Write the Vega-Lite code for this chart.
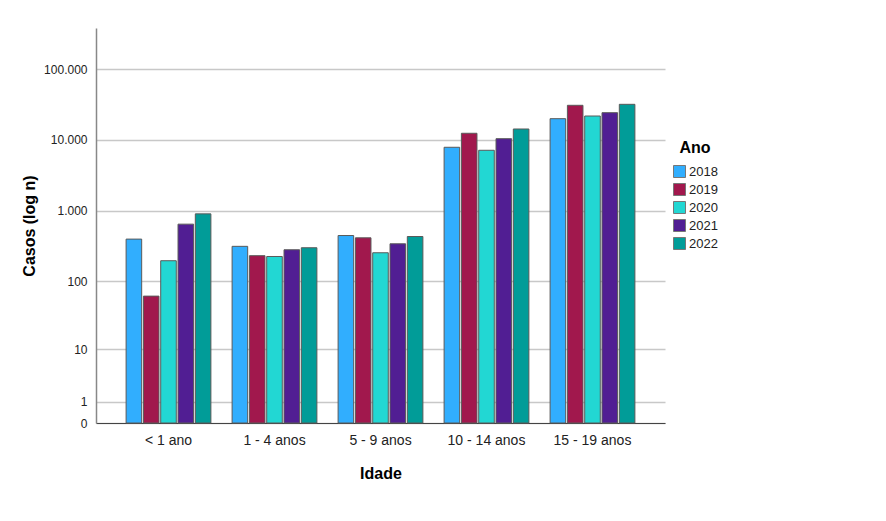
{
  "$schema": "https://vega.github.io/schema/vega-lite/v6.json",
  "width": 569,
  "height": 395,
  "autosize": {"type": "none"},
  "padding": {"left": 96, "top": 28, "right": 221, "bottom": 98},
  "background": "white",
  "config": {
    "locale": {"number": {"decimal": ",", "thousands": ".", "grouping": [3], "currency": ["", ""]}},
    "font": "Liberation Sans",
    "view": {"stroke": null}
  },
  "data": {
    "values": [
      {"Idade": "< 1 ano", "Ano": "2018", "Casos": 395},
      {"Idade": "< 1 ano", "Ano": "2019", "Casos": 61},
      {"Idade": "< 1 ano", "Ano": "2020", "Casos": 195},
      {"Idade": "< 1 ano", "Ano": "2021", "Casos": 643},
      {"Idade": "< 1 ano", "Ano": "2022", "Casos": 899},
      {"Idade": "1 - 4 anos", "Ano": "2018", "Casos": 312},
      {"Idade": "1 - 4 anos", "Ano": "2019", "Casos": 230},
      {"Idade": "1 - 4 anos", "Ano": "2020", "Casos": 224},
      {"Idade": "1 - 4 anos", "Ano": "2021", "Casos": 279},
      {"Idade": "1 - 4 anos", "Ano": "2022", "Casos": 298},
      {"Idade": "5 - 9 anos", "Ano": "2018", "Casos": 444},
      {"Idade": "5 - 9 anos", "Ano": "2019", "Casos": 412},
      {"Idade": "5 - 9 anos", "Ano": "2020", "Casos": 253},
      {"Idade": "5 - 9 anos", "Ano": "2021", "Casos": 339},
      {"Idade": "5 - 9 anos", "Ano": "2022", "Casos": 430},
      {"Idade": "10 - 14 anos", "Ano": "2018", "Casos": 7850},
      {"Idade": "10 - 14 anos", "Ano": "2019", "Casos": 12380},
      {"Idade": "10 - 14 anos", "Ano": "2020", "Casos": 7120},
      {"Idade": "10 - 14 anos", "Ano": "2021", "Casos": 10380},
      {"Idade": "10 - 14 anos", "Ano": "2022", "Casos": 14230},
      {"Idade": "15 - 19 anos", "Ano": "2018", "Casos": 19900},
      {"Idade": "15 - 19 anos", "Ano": "2019", "Casos": 30740},
      {"Idade": "15 - 19 anos", "Ano": "2020", "Casos": 21710},
      {"Idade": "15 - 19 anos", "Ano": "2021", "Casos": 24190},
      {"Idade": "15 - 19 anos", "Ano": "2022", "Casos": 31750}
    ]
  },
  "mark": {"type": "bar", "stroke": "#5a5a5a", "strokeWidth": 1},
  "encoding": {
    "x": {
      "field": "Idade",
      "type": "nominal",
      "sort": ["< 1 ano", "1 - 4 anos", "5 - 9 anos", "10 - 14 anos", "15 - 19 anos"],
      "scale": {"paddingInner": 0.2, "paddingOuter": 0.284},
      "axis": {
        "title": "Idade",
        "titleFontSize": 16,
        "titleFontWeight": "bold",
        "titleColor": "#000",
        "titlePadding": 18,
        "labelAngle": 0,
        "labelFontSize": 14,
        "labelColor": "#222",
        "labelPadding": 10,
        "ticks": false,
        "domainColor": "#444",
        "domainWidth": 1
      }
    },
    "xOffset": {
      "field": "Ano",
      "type": "nominal",
      "scale": {"paddingInner": 0.1, "paddingOuter": 0}
    },
    "y": {
      "field": "Casos",
      "type": "quantitative",
      "scale": {"type": "symlog", "constant": 1, "domain": [0, 380000], "nice": false, "zero": true},
      "axis": {
        "title": "Casos (log n)",
        "titleFontSize": 16,
        "titleFontWeight": "bold",
        "titleColor": "#000",
        "titlePadding": 6,
        "values": [0, 1, 10, 100, 1000, 10000, 100000],
        "format": ",d",
        "labelFontSize": 12,
        "labelColor": "#222",
        "labelPadding": 9,
        "ticks": false,
        "grid": true,
        "gridColor": "#c8c8c8",
        "gridWidth": 1.5,
        "domainColor": "#888",
        "domainWidth": 1.5
      }
    },
    "color": {
      "field": "Ano",
      "type": "nominal",
      "scale": {"domain": ["2018", "2019", "2020", "2021", "2022"], "range": ["#31AEFE", "#A1184D", "#22D7D3", "#511E93", "#019C98"]},
      "legend": {
        "title": "Ano",
        "orient": "none",
        "legendX": 577,
        "legendY": 112,
        "titleFontSize": 16,
        "titleFontWeight": "bold",
        "titleColor": "#000",
        "titlePadding": 9,
        "titleAnchor": "middle",
        "labelFontSize": 13,
        "labelColor": "#222",
        "symbolType": "square",
        "symbolSize": 144,
        "symbolStrokeColor": "#777",
        "symbolStrokeWidth": 1,
        "rowPadding": 1,
        "labelOffset": 3
      }
    }
  }
}
